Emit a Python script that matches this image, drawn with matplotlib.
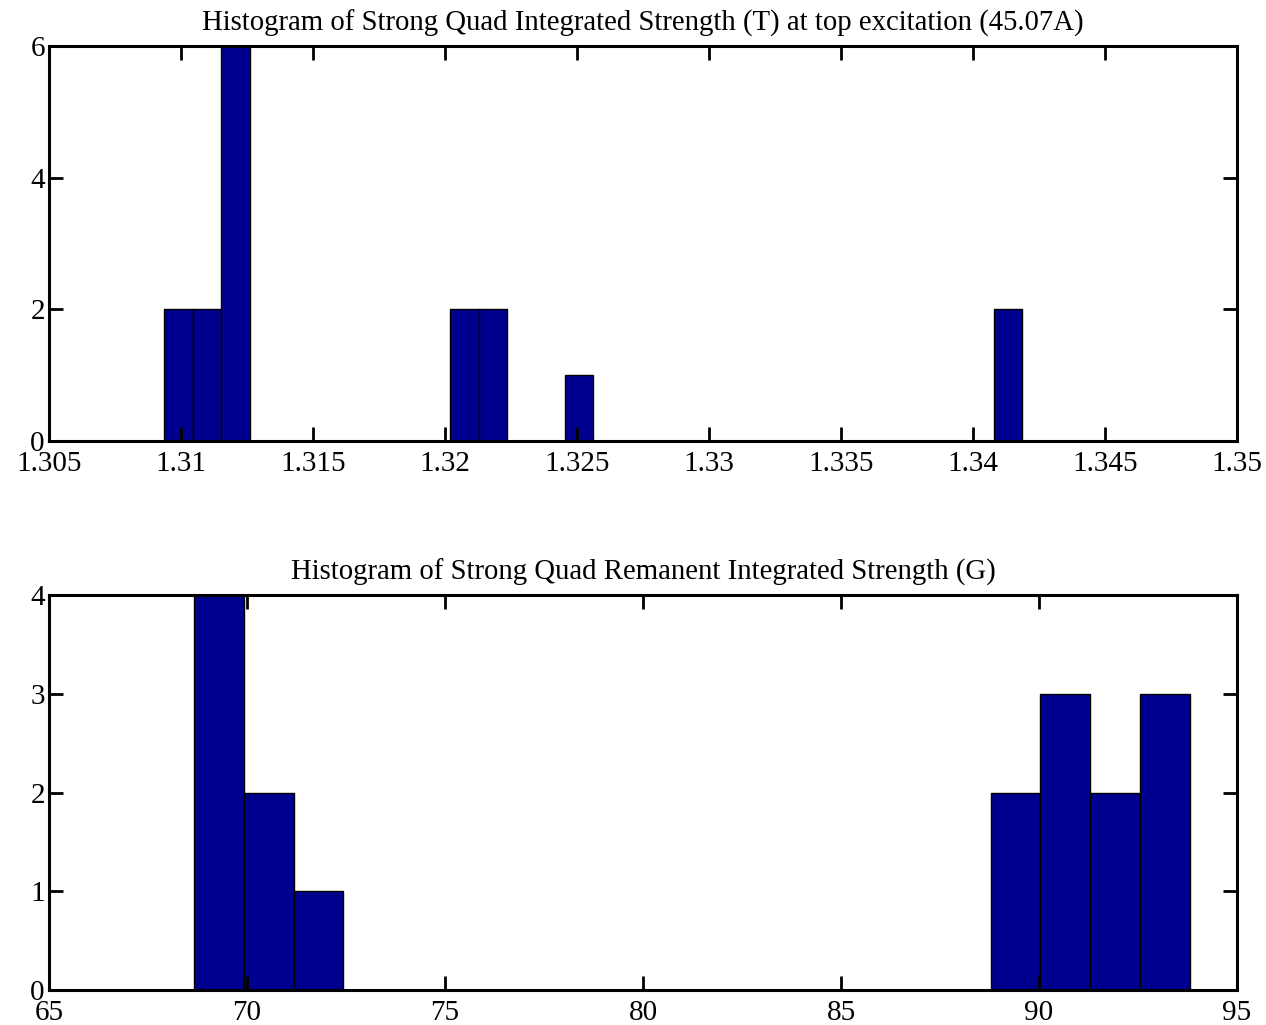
import numpy as np
import matplotlib.pyplot as plt
from matplotlib.ticker import FormatStrFormatter

# Strong quad integrated strength at 45.07A (T), 30 bins
top_lo, top_hi, top_nbins = 1.30936, 1.34186, 30
top_counts = [2, 2, 6, 0, 0, 0, 0, 0, 0, 0, 2, 2, 0, 0, 1,
              0, 0, 0, 0, 0, 0, 0, 0, 0, 0, 0, 0, 0, 0, 2]
top_xticks = [1.305, 1.31, 1.315, 1.32, 1.325, 1.33, 1.335, 1.34, 1.345, 1.35]
top_yticks = [0, 2, 4, 6]

# Remanent integrated strength (G), 20 bins
bot_lo, bot_hi, bot_nbins = 68.66, 93.81, 20
bot_counts = [4, 2, 1, 0, 0, 0, 0, 0, 0, 0, 0, 0, 0, 0, 0, 0, 2, 3, 2, 3]
bot_xticks = [65, 70, 75, 80, 85, 90, 95]
bot_yticks = [0, 1, 2, 3, 4]

plt.rcParams['font.family'] = ['Liberation Serif', 'DejaVu Serif']

fig = plt.figure(figsize=(12.66, 10.25), dpi=100)
ax1 = fig.add_axes([0.0387, 0.5698, 0.9384, 0.3854])
ax2 = fig.add_axes([0.0387, 0.0341, 0.9384, 0.3854])


def draw_hist(ax, lo, hi, nbins, counts, xticks, yticks, title):
    edges = np.linspace(lo, hi, nbins + 1)
    width = edges[1] - edges[0]
    ax.bar(edges[:-1], counts, width=width, align='edge',
           color='#00008F', edgecolor='black', linewidth=1)
    ax.set_xlim(xticks[0], xticks[-1])
    ax.set_ylim(yticks[0], yticks[-1])
    ax.set_xticks(xticks)
    ax.set_yticks(yticks)
    ax.xaxis.set_major_formatter(FormatStrFormatter('%g'))
    ax.tick_params(direction='in', length=10, width=2, top=True, right=True,
                   labelsize=21)
    ax.tick_params(axis='x', pad=7)
    ax.tick_params(axis='y', pad=3)
    for s in ax.spines.values():
        s.set_linewidth(2.2)
    ax.set_title(title, fontsize=20.7, pad=11)


draw_hist(ax1, top_lo, top_hi, top_nbins, top_counts, top_xticks, top_yticks,
          'Histogram of Strong Quad Integrated Strength (T) at top excitation (45.07A)')
draw_hist(ax2, bot_lo, bot_hi, bot_nbins, bot_counts, bot_xticks, bot_yticks,
          'Histogram of Strong Quad Remanent Integrated Strength (G)')

fig.savefig('out.png', dpi=100)
